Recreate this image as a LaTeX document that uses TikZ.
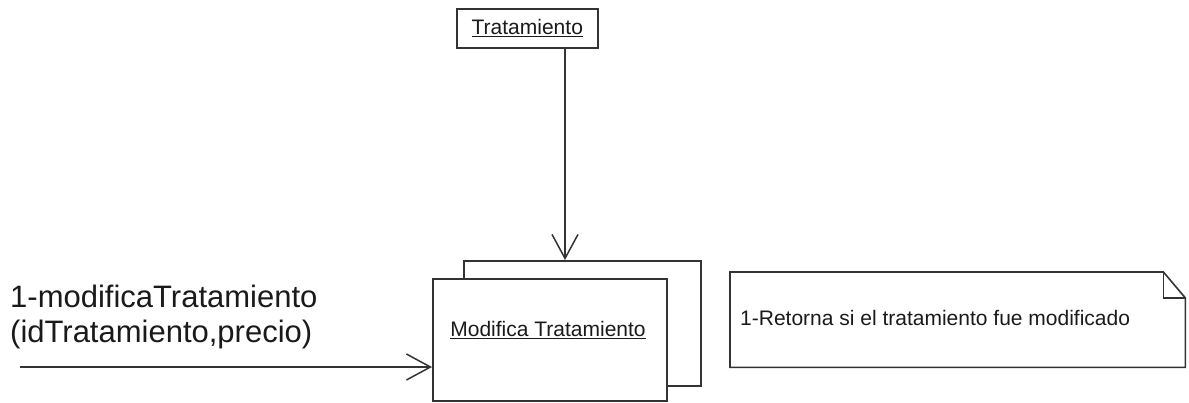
\documentclass[tikz,border=0pt]{standalone}
\usepackage{fontspec}
\setmainfont{Liberation Sans}
\usetikzlibrary{arrows.meta,calc}
\definecolor{linec}{HTML}{333333}
\definecolor{textc}{HTML}{1A1A1A}
\begin{document}
\begin{tikzpicture}[x=1pt,y=-1pt,
  box/.style={draw=linec, line width=1.6pt, fill=white, inner sep=0pt, anchor=north west},
  arr/.style={draw=linec, line width=1.5pt, -{Straight Barb[length=24pt,width=26pt,line width=1.5pt]}},
  lbl/.style={text=textc, inner sep=0pt},
  small/.style={font=\fontsize{21}{25}\selectfont},
  big/.style={font=\fontsize{31}{35}\selectfont}]
\useasboundingbox (0,0) rectangle (1189,402);
% top object
\node[box, minimum width=141pt, minimum height=39pt, lbl, small] (trat) at (456,8) {\underline{Tratamiento}};
% stacked boxes
\node[box, minimum width=237pt, minimum height=125pt] (back) at (463,260) {};
\node[box, minimum width=234pt, minimum height=122pt] (front) at (432,278) {};
\node[lbl, small] (modlbl) at (548,330) {\underline{Modifica Tratamiento}};
% arrows
\coordinate (tin) at (565,260);
\draw[arr] (trat.south -| tin) -- (tin);
\coordinate (src) at (20,367);
\draw[arr] (src) -- (src -| front.west);
\node[lbl, big, align=left, anchor=west] (msg) at (10,317) {1-modificaTratamiento\\(idTratamiento,precio)};
% note
\node[inner sep=0pt, anchor=north west, minimum width=455pt, minimum height=95pt] (note) at (730,272) {};
\draw[draw=linec, line width=1.6pt, line join=miter]
  (note.north west) -- ($(note.north east)+(-22,0)$) -- ($(note.north east)+(0,26)$)
  -- (note.south east) -- (note.south west) -- cycle;
\draw[draw=linec, line width=1.6pt]
  ($(note.north east)+(-22,0)$) |- ($(note.north east)+(0,26)$);
\node[lbl, small, anchor=west] (notetxt) at (740,318) {1-Retorna si el tratamiento fue modificado};
\end{tikzpicture}
\end{document}
